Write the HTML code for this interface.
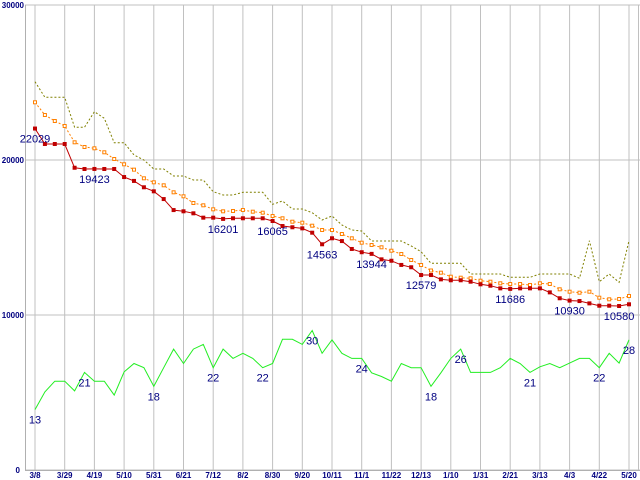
<!DOCTYPE html>
<html><head><meta charset="utf-8">
<style>
html,body{margin:0;padding:0;background:#fff;}
svg{display:block;}
text{font-family:"Liberation Sans",sans-serif;}
.ax{font-size:8px;font-weight:bold;fill:#000080;}
.lb{font-size:11px;fill:#000080;}
</style></head>
<body>
<svg id="chart" width="640" height="480" viewBox="0 0 640 480" xmlns="http://www.w3.org/2000/svg"></svg>
<script>
const xLabels=["3/8","3/29","4/19","5/10","5/31","6/21","7/12","8/2","8/30","9/20","10/11","11/1","11/22","12/13","1/10","1/31","2/21","3/13","4/3","4/22","5/20"];
const yTicks=[0,10000,20000,30000];
const priceSeries=[22029,21032,21032,21032,19500,19420,19423,19420,19420,18900,18650,18240,17980,17480,16770,16690,16560,16280,16280,16201,16240,
16240,16240,16240,16065,15740,15660,15590,15310,14563,14950,14770,14260,14050,13944,13590,13500,13230,13080,12579,12579,
12300,12240,12240,12150,11980,11890,11720,11686,11720,11720,11720,11460,11080,10930,10900,10750,10600,10600,10580,10690];
const avgSeries=[23723,22903,22516,22194,21142,20839,20755,20497,20065,19723,19377,18819,18561,18368,17916,17658,17226,17077,16819,16690,16710,
16774,16665,16600,16387,16239,16019,15955,15761,15484,15484,15226,14948,14665,14516,14368,14148,13935,13548,13226,12871,
12729,12471,12406,12368,12213,12148,12045,12000,12000,11935,12045,12000,11658,11503,11439,11503,11116,11013,11032,11226];
const highSeries=[25052,24045,24045,24045,22110,22110,23116,22690,21116,21116,20323,20000,19419,19419,18968,18968,18710,18710,17955,17742,17742,
17916,17916,17916,17142,17355,16839,16839,16600,16129,16387,15806,15484,15419,14774,14774,14774,14774,14452,14084,13335,
13335,13335,13335,12645,12645,12645,12645,12432,12432,12432,12645,12645,12645,12645,12368,14794,12148,12645,12110,14794];
const countSeries=[13,16.8,19.1,19.1,17,21,19.1,19.1,16.1,21.1,22.9,22,18,22,26,22.9,26,27,22,26,
24,25.1,24,22,22.9,28.1,28.1,27,30,25.1,28,25.1,24,24,20.9,20.1,19.1,22.9,22,22,
18,20.9,24,26,21,21,21,22,24,22.9,21,22.2,22.9,22,23,24,24,22,25.1,23,28];
const priceLabelIdx=[0,6,19,24,29,34,39,48,54,59];
const countLabelIdx=[0,5,12,18,23,28,33,40,43,50,57,60];

const NS="http://www.w3.org/2000/svg";
const svg=document.getElementById('chart');
const X0=35, STEP=(629-35)/60, YB=470, YT=5;
const xs=i=>X0+i*STEP;
const yp=v=>YB-(v/30000)*(YB-YT);
const yc=v=>YB-(v/100)*(YB-YT);
function mk(tag,attrs){const e=document.createElementNS(NS,tag);for(const k in attrs)e.setAttribute(k,attrs[k]);svg.appendChild(e);return e;}

yTicks.forEach(t=>{
  const l=mk('line',{x1:25,x2:640,y1:yp(t),y2:yp(t),stroke:'#c0c0c0','stroke-width':1});
  
  
  const tx=mk('text',{x:t===0?20:24,y:yp(t)+3,'text-anchor':'end',class:'ax'});
  tx.textContent=String(t);
  
  
});
xLabels.forEach((s,k)=>{
  const x=xs(k*3);
  const l=mk('line',{x1:x,x2:x,y1:5,y2:470,stroke:'#c0c0c0','stroke-width':1});
  
  
  const tx=mk('text',{x:x,y:478,'text-anchor':'middle',class:'ax'});
  tx.textContent=s;
  
  
});
const rb=mk('line',{x1:638.5,x2:638.5,y1:5,y2:470,stroke:'#c0c0c0'});


const ya=mk('line',{x1:25.5,x2:25.5,y1:5,y2:470,stroke:'#b0b0b0'});


const xa=mk('line',{x1:25,x2:640,y1:470.5,y2:470.5,stroke:'#b0b0b0'});



function pts(arr,f){return arr.map((v,i)=>xs(i).toFixed(1)+','+f(v).toFixed(1)).join(' ');}
const hl=mk('polyline',{points:pts(highSeries,yp),fill:'none',stroke:'#808000','stroke-width':1,'stroke-dasharray':'2,2'});


const al=mk('polyline',{points:pts(avgSeries,yp),fill:'none',stroke:'#ff8000','stroke-width':1,'stroke-dasharray':'2,2'});


avgSeries.forEach((v,i)=>{
  const r=mk('rect',{x:xs(i)-1.5,y:yp(v)-1.5,width:3,height:3,fill:'#fff',stroke:'#ff8000','stroke-width':1});
  
  
});
const pl=mk('polyline',{points:pts(priceSeries,yp),fill:'none',stroke:'#c00000','stroke-width':1});


priceSeries.forEach((v,i)=>{
  const r=mk('rect',{x:xs(i)-2,y:yp(v)-2,width:4,height:4,fill:'#c00000'});
  
  
});
const gl=mk('polyline',{points:pts(countSeries,yc),fill:'none',stroke:'#22ee22','stroke-width':1});



priceLabelIdx.forEach(i=>{
  const t=mk('text',{x:xs(i),y:yp(priceSeries[i])+14,'text-anchor':'middle',class:'lb'});
  t.textContent=String(priceSeries[i]);
  
  
});
countLabelIdx.forEach(i=>{
  const t=mk('text',{x:xs(i),y:yc(countSeries[i])+14,'text-anchor':'middle',class:'lb'});
  t.textContent=String(Math.round(countSeries[i]));
  
  
});
</script>
</body></html>
